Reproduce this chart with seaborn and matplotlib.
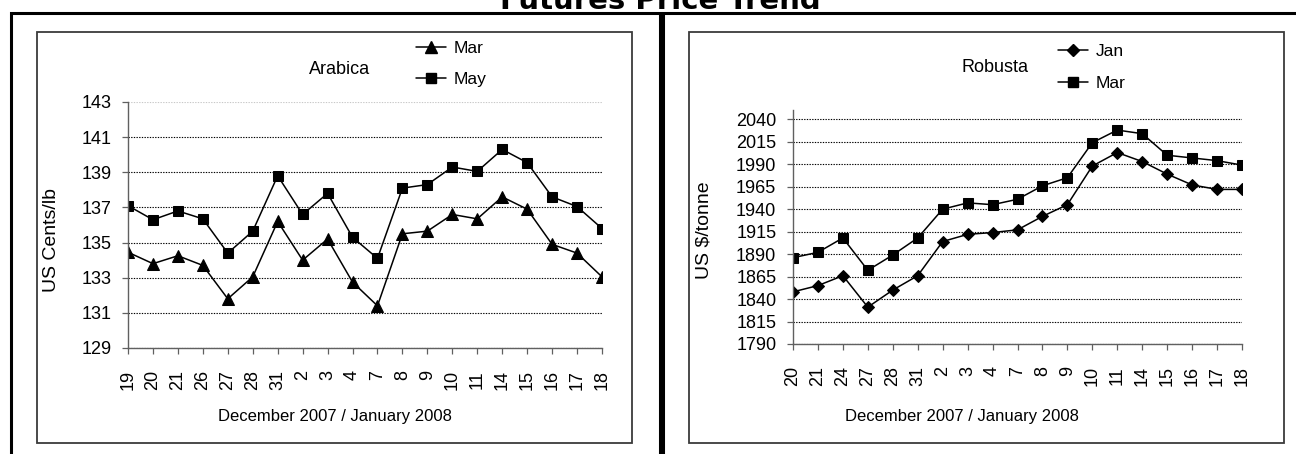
"""Futures price trend: Arabica and Robusta coffee, Dec 2007 / Jan 2008."""

import matplotlib

matplotlib.use("Agg")

import matplotlib.pyplot as plt
import numpy as np
import seaborn as sns
from matplotlib.lines import Line2D
from matplotlib.patches import Rectangle

# --- data ---
arabica_dates = ["19", "20", "21", "26", "27", "28", "31", "2", "3", "4",
                 "7", "8", "9", "10", "11", "14", "15", "16", "17", "18"]
arabica_mar = [134.45, 133.8, 134.25, 133.7, 131.8, 133.05, 136.2, 134.0, 135.2, 132.75,
               131.4, 135.5, 135.65, 136.6, 136.35, 137.6, 136.9, 134.9, 134.4, 133.05]
arabica_may = [137.1, 136.3, 136.8, 136.35, 134.4, 135.65, 138.8, 136.6, 137.8, 135.3,
               134.1, 138.1, 138.3, 139.3, 139.05, 140.3, 139.55, 137.6, 137.05, 135.8]
arabica_yticks = [129, 131, 133, 135, 137, 139, 141, 143]

robusta_dates = ["20", "21", "24", "27", "28", "31", "2", "3", "4", "7",
                 "8", "9", "10", "11", "14", "15", "16", "17", "18"]
robusta_jan = [1848, 1855, 1866, 1831, 1850, 1866, 1904, 1912, 1914, 1917,
               1932, 1945, 1988, 2003, 1993, 1979, 1967, 1962, 1962]
robusta_mar = [1886, 1892, 1908, 1872, 1889, 1908, 1940, 1947, 1945, 1951,
               1966, 1975, 2014, 2028, 2024, 2000, 1997, 1994, 1989]
robusta_yticks = [1790, 1815, 1840, 1865, 1890, 1915, 1940, 1965, 1990, 2015, 2040]

W, H = 1296, 454
INK = "black"
AXIS_GREY = "#606060"


def fx(x):
    return x / W


def fy(y):
    return 1 - y / H


def style_axes(ax, labels, yticks, ylim):
    idx = np.arange(len(labels))
    ax.set_xlim(idx[0], idx[-1])
    ax.set_xticks(idx)
    ax.set_xticklabels(labels, rotation=90, fontsize=13)
    ax.set_yticks(yticks)
    ax.set_ylim(*ylim)
    ax.tick_params(axis="y", labelsize=13, pad=8)
    ax.tick_params(axis="x", pad=12)
    ax.tick_params(direction="out", length=4, width=0.9, color=AXIS_GREY,
                   left=True, bottom=True)
    ax.set_xlabel("")
    ax.set_ylabel("")
    for side in ("top", "right"):
        ax.spines[side].set_visible(False)
    for side in ("left", "bottom"):
        ax.spines[side].set_color(AXIS_GREY)
        ax.spines[side].set_linewidth(1.0)
    ax.yaxis.grid(True, linestyle=(0, (1.2, 1.2)), color=INK, linewidth=0.8)
    ax.xaxis.grid(False)
    ax.set_facecolor("white")
    ax.set_axisbelow(True)


def add_legend(ax, entries, anchor):
    handles = [Line2D([], [], color=INK, lw=1.1, marker=m, markersize=ms,
                      markerfacecolor=INK, markeredgecolor=INK, label=lab)
               for lab, m, ms in entries]
    ax.legend(handles=handles, loc="center left", bbox_to_anchor=anchor,
              bbox_transform=ax.figure.transFigure, frameon=False, fontsize=12.5,
              borderpad=0, handlelength=1.75, handletextpad=0.45,
              labelspacing=0.95, numpoints=1)


def main() -> None:
    sns.set_theme(style="white")
    plt.rcParams["font.family"] = ["Liberation Sans", "DejaVu Sans"]
    plt.rcParams["text.color"] = INK
    plt.rcParams["xtick.color"] = INK
    plt.rcParams["ytick.color"] = INK

    fig = plt.figure(figsize=(W / 100, H / 100), dpi=100)
    fig.patch.set_facecolor("white")

    # outer frames
    fig.add_artist(Rectangle((fx(10.5), -0.1), fx(660 - 10.5), fy(12.7) + 0.1,
                             transform=fig.transFigure, fill=False, ec=INK, lw=2.2))
    fig.add_artist(Rectangle((fx(662.5), -0.1), fx(700), fy(12.7) + 0.1,
                             transform=fig.transFigure, fill=False, ec=INK, lw=2.2))
    # inner chart boxes
    for x0, x1 in ((37, 632), (689, 1284)):
        fig.add_artist(Rectangle((fx(x0), fy(443)), fx(x1 - x0), (443 - 32) / H,
                                 transform=fig.transFigure, fill=False,
                                 ec="#3a3a3a", lw=1.3))

    fig.text(fx(660), fy(9), "Futures Price Trend", ha="center", va="baseline",
             fontsize=21, fontweight="bold", family=["DejaVu Sans"])

    # Arabica
    ax1 = fig.add_axes([fx(128), fy(348), fx(602 - 128), (348 - 102) / H])
    idx1 = np.arange(len(arabica_dates))
    sns.lineplot(x=idx1, y=arabica_mar, ax=ax1, color=INK, lw=1.1, marker="^",
                 markersize=8.5, markeredgecolor=INK, markerfacecolor=INK)
    sns.lineplot(x=idx1, y=arabica_may, ax=ax1, color=INK, lw=1.1, marker="s",
                 markersize=7, markeredgecolor=INK, markerfacecolor=INK)
    style_axes(ax1, arabica_dates, arabica_yticks, (129, 143))
    ax1.get_ygridlines()[-1].set_color("#c8c8c8")
    add_legend(ax1, [("Mar", "^", 8.5), ("May", "s", 7)], (fx(407), fy(64)))
    fig.text(fx(340), fy(70), "Arabica", ha="center", va="center", fontsize=13)
    fig.text(fx(52), fy(240), "US Cents/lb", ha="center", va="center",
             rotation=90, fontsize=14)
    fig.text(fx(335), fy(416), "December 2007 / January 2008", ha="center",
             va="center", fontsize=12)

    # Robusta
    ax2 = fig.add_axes([fx(793), fy(344), fx(1242 - 793), (344 - 110.3) / H])
    idx2 = np.arange(len(robusta_dates))
    sns.lineplot(x=idx2, y=robusta_jan, ax=ax2, color=INK, lw=1.1, marker="D",
                 markersize=6, markeredgecolor=INK, markerfacecolor=INK)
    sns.lineplot(x=idx2, y=robusta_mar, ax=ax2, color=INK, lw=1.1, marker="s",
                 markersize=7, markeredgecolor=INK, markerfacecolor=INK)
    style_axes(ax2, robusta_dates, robusta_yticks, (1790, 2050))
    add_legend(ax2, [("Jan", "D", 6), ("Mar", "s", 7)], (fx(1049), fy(67.5)))
    fig.text(fx(995), fy(67), "Robusta", ha="center", va="center", fontsize=13)
    fig.text(fx(704), fy(230), "US $/tonne", ha="center", va="center",
             rotation=90, fontsize=14)
    fig.text(fx(962), fy(416), "December 2007 / January 2008", ha="center",
             va="center", fontsize=12)

    fig.savefig("out.png", dpi=100, facecolor="white")
    plt.close(fig)


if __name__ == "__main__":
    main()
